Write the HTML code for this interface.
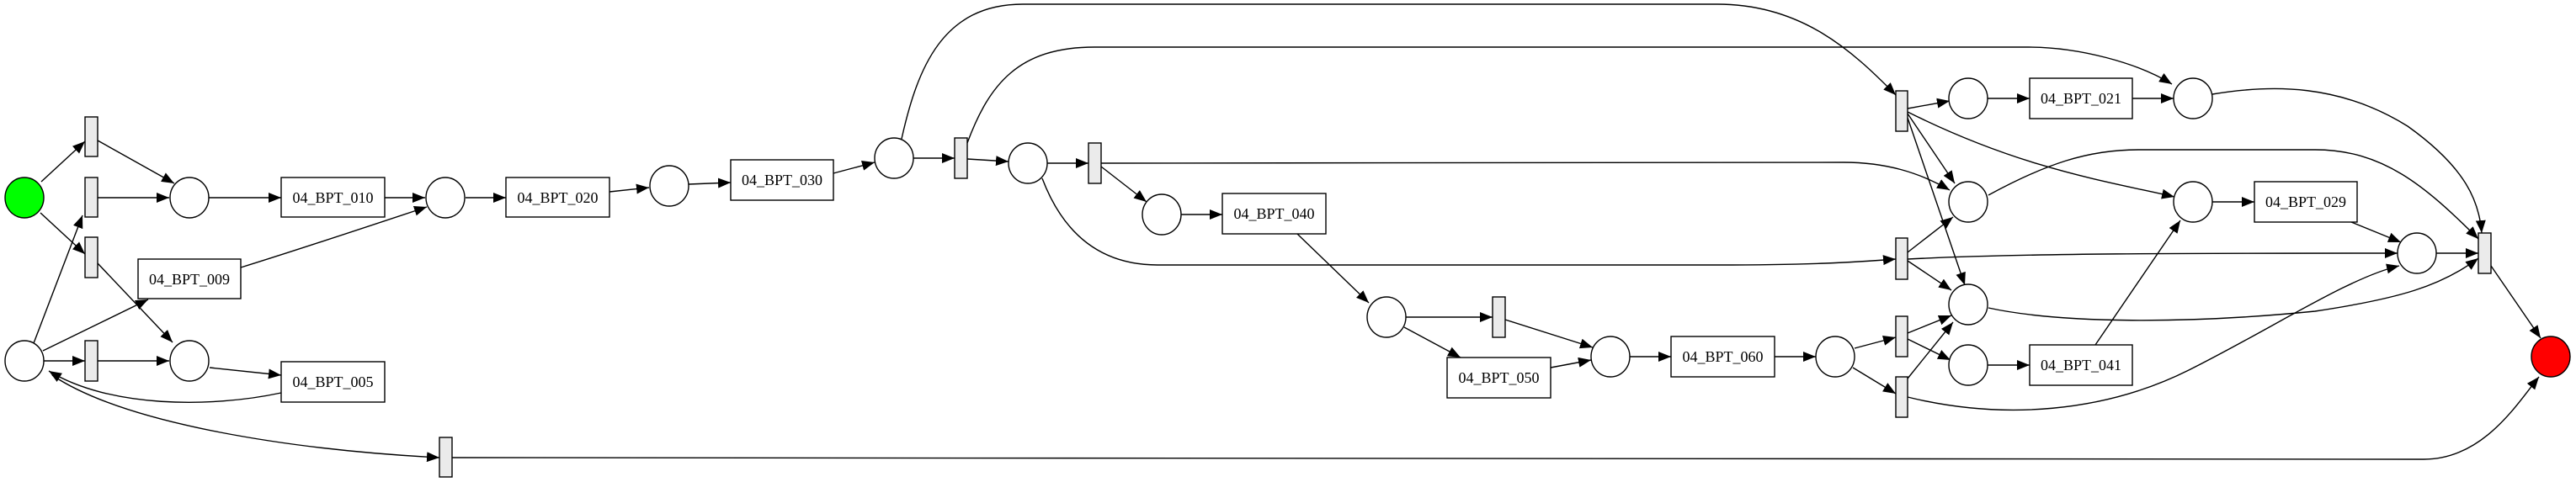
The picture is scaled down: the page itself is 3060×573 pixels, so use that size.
<!DOCTYPE html>
<html><head><meta charset="utf-8"><style>
html,body{margin:0;padding:0;background:#fff;}
svg{display:block;}
text{font-family:"Liberation Serif",serif;font-size:18px;text-anchor:middle;dominant-baseline:central;fill:#000;}
</style></head><body>
<svg width="3060" height="573" viewBox="0 0 3060 573" xmlns="http://www.w3.org/2000/svg">
<defs>
<marker id="a" markerUnits="userSpaceOnUse" markerWidth="16" markerHeight="12" refX="15" refY="6" orient="auto">
<path d="M0,0 L15,6 L0,12 z" fill="#000"/>
</marker>
</defs>
<g fill="none" stroke="#000" stroke-width="1.4" marker-end="url(#a)">
<path d="M49,216 L101,168"/>
<path d="M116,167 L207,218"/>
<path d="M116,235 L201,235"/>
<path d="M48,253 L101,302"/>
<path d="M116,313 L205,407"/>
<path d="M248,235 L334,235"/>
<path d="M457,235 L505,235"/>
<path d="M553,235 L601,235"/>
<path d="M724,228 L771,223"/>
<path d="M818,219 L868,217"/>
<path d="M990,206 L1039,193"/>
<path d="M1085,188 L1134,188"/>
<path d="M1149,189 L1198,192"/>
<path d="M1244,194 L1293,194"/>
<path d="M1308,198 L1362,240"/>
<path d="M1403,255 L1452,255"/>
<path d="M1541,278 L1626,360"/>
<path d="M1670,377 L1773,377"/>
<path d="M1668,389 L1735,425"/>
<path d="M1788,380 L1892,413"/>
<path d="M1842,437 L1890,428"/>
<path d="M1936,424 L1985,424"/>
<path d="M2108,424 L2157,424"/>
<path d="M2203,414 L2252,401"/>
<path d="M2201,437 L2252,468"/>
<path d="M2266,396 L2318,375"/>
<path d="M2266,403 L2317,428"/>
<path d="M2266,450 L2320,383"/>
<path d="M2266,472 C2380,500 2500,490 2600,440 C2700,390 2790,330 2850,316"/>
<path d="M2361,434 L2411,434"/>
<path d="M2489,410 L2590,262"/>
<path d="M2266,300 L2320,258"/>
<path d="M2266,308 C2400,301 2600,301 2848,301"/>
<path d="M2266,310 L2318,345"/>
<path d="M2266,129 L2316,120"/>
<path d="M2266,135 L2322,218"/>
<path d="M2266,140 L2334,339"/>
<path d="M2266,133 C2400,200 2500,215 2583,234"/>
<path d="M2361,117 L2411,117"/>
<path d="M2533,117 L2582,117"/>
<path d="M2628,112 C2700,100 2780,100 2860,150 C2930,200 2945,240 2948,277"/>
<path d="M2362,232 C2430,195 2480,178 2540,178 L2750,178 C2830,178 2880,220 2944,284"/>
<path d="M2628,240 L2678,240"/>
<path d="M2793,264 L2852,288"/>
<path d="M2894,301 L2944,301"/>
<path d="M2362,366 C2450,385 2600,385 2750,370 C2850,355 2900,340 2944,307"/>
<path d="M2959,316 L3018,402"/>
<path d="M537,544 L2879,546 C2950,546 2990,480 3016,448"/>
<path d="M62,446 C150,505 350,535 522,544"/>
<path d="M334,467 C250,485 130,485 58,441"/>
<path d="M40,408 L98,256"/>
<path d="M51,417 L176,356"/>
<path d="M52,429 L101,429"/>
<path d="M116,429 L201,429"/>
<path d="M249,437 L334,446"/>
<path d="M286,318 C360,295 450,265 507,246"/>
<path d="M1071,165 C1090,80 1120,5 1215,5 L2040,5 C2140,5 2200,60 2252,113"/>
<path d="M1149,170 C1175,100 1210,56 1300,56 L2410,56 C2470,56 2540,75 2580,100"/>
<path d="M1308,194 L2190,193 C2240,193 2280,205 2316,226"/>
<path d="M1238,212 C1260,270 1300,315 1375,315 L2040,315 C2150,315 2200,312 2252,308"/>
</g>
<g stroke="#000" stroke-width="1.4">
<ellipse cx="29" cy="235" rx="23" ry="24" fill="#00ff00"/>
<ellipse cx="3030" cy="424" rx="23" ry="24" fill="#ff0000"/>
<g fill="#fff">
<ellipse cx="225" cy="235" rx="23" ry="24"/>
<ellipse cx="529" cy="235" rx="23" ry="24"/>
<ellipse cx="795" cy="221" rx="23" ry="24"/>
<ellipse cx="1062" cy="188" rx="23" ry="24"/>
<ellipse cx="1221" cy="194" rx="23" ry="24"/>
<ellipse cx="1380" cy="255" rx="23" ry="24"/>
<ellipse cx="1647" cy="377" rx="23" ry="24"/>
<ellipse cx="1913" cy="424" rx="23" ry="24"/>
<ellipse cx="2180" cy="424" rx="23" ry="24"/>
<ellipse cx="2338" cy="117" rx="23" ry="24"/>
<ellipse cx="2605" cy="117" rx="23" ry="24"/>
<ellipse cx="2338" cy="240" rx="23" ry="24"/>
<ellipse cx="2605" cy="240" rx="23" ry="24"/>
<ellipse cx="2871" cy="301" rx="23" ry="24"/>
<ellipse cx="2338" cy="362" rx="23" ry="24"/>
<ellipse cx="2338" cy="434" rx="23" ry="24"/>
<ellipse cx="29" cy="429" rx="23" ry="24"/>
<ellipse cx="225" cy="429" rx="23" ry="24"/>
<rect x="334" y="211" width="123" height="47"/>
<rect x="601" y="211" width="123" height="47"/>
<rect x="868" y="190" width="122" height="48"/>
<rect x="164" y="308" width="122" height="47"/>
<rect x="334" y="430" width="123" height="48"/>
<rect x="1452" y="230" width="123" height="48"/>
<rect x="1719" y="425" width="123" height="48"/>
<rect x="1985" y="400" width="123" height="48"/>
<rect x="2411" y="93" width="122" height="48"/>
<rect x="2678" y="216" width="122" height="48"/>
<rect x="2411" y="410" width="122" height="48"/>
</g>
<g fill="#ebebeb">
<rect x="101" y="139" width="15" height="47"/>
<rect x="101" y="211" width="15" height="47"/>
<rect x="101" y="282" width="15" height="48"/>
<rect x="101" y="405" width="15" height="48"/>
<rect x="522" y="520" width="15" height="47"/>
<rect x="1134" y="164" width="15" height="48"/>
<rect x="1293" y="170" width="15" height="48"/>
<rect x="1773" y="353" width="15" height="48"/>
<rect x="2252" y="108" width="14" height="48"/>
<rect x="2252" y="283" width="14" height="49"/>
<rect x="2252" y="376" width="14" height="48"/>
<rect x="2252" y="448" width="14" height="48"/>
<rect x="2944" y="277" width="15" height="48"/>
</g>
</g>
<text x="395.5" y="235">04_BPT_010</text>
<text x="662.5" y="235">04_BPT_020</text>
<text x="929" y="214">04_BPT_030</text>
<text x="225" y="332">04_BPT_009</text>
<text x="395.5" y="454">04_BPT_005</text>
<text x="1513.5" y="254">04_BPT_040</text>
<text x="1780.5" y="449">04_BPT_050</text>
<text x="2046.5" y="424">04_BPT_060</text>
<text x="2472" y="117">04_BPT_021</text>
<text x="2739" y="240">04_BPT_029</text>
<text x="2472" y="434">04_BPT_041</text>
</svg>
</body></html>
